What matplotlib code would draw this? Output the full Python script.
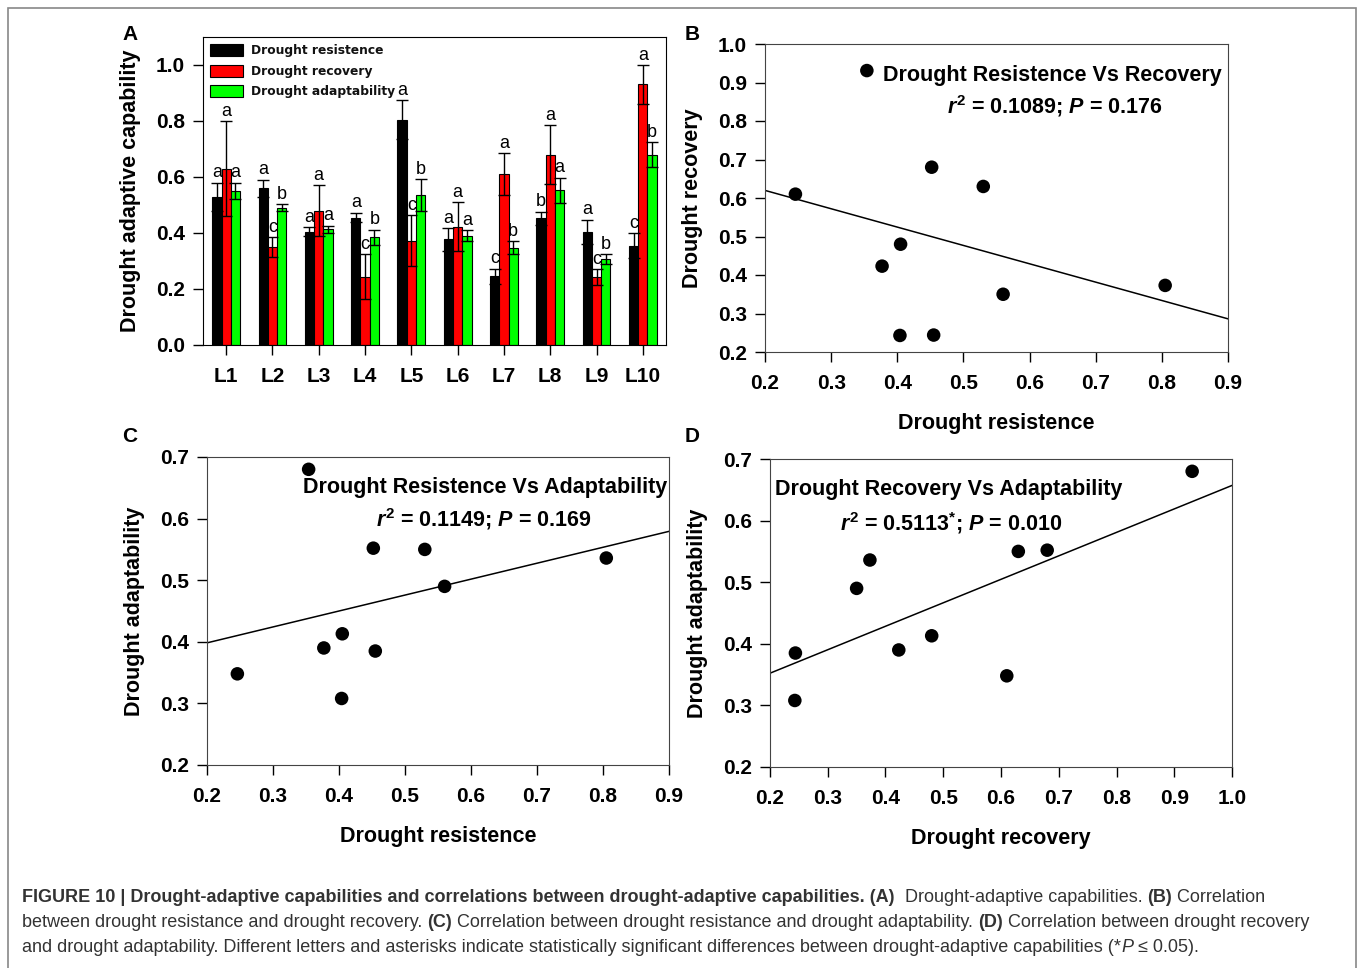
import numpy as np
import matplotlib
matplotlib.use("Agg")
import matplotlib.pyplot as plt
from matplotlib.patches import Rectangle

plt.rcParams['font.family'] = ['Liberation Sans', 'DejaVu Sans']
plt.rcParams['mathtext.fontset'] = 'custom'
plt.rcParams['mathtext.rm'] = 'Liberation Sans:bold'
plt.rcParams['mathtext.it'] = 'Liberation Sans:bold:italic'
plt.rcParams['mathtext.bf'] = 'Liberation Sans:bold'

# line means and standard errors
lines = ["L1", "L2", "L3", "L4", "L5", "L6", "L7", "L8", "L9", "L10"]
resistance = [0.53, 0.56, 0.405, 0.455, 0.805, 0.377, 0.246, 0.452, 0.404, 0.354]
recovery = [0.63, 0.35, 0.48, 0.244, 0.373, 0.423, 0.61, 0.68, 0.243, 0.931]
adaptability = [0.55, 0.49, 0.413, 0.385, 0.536, 0.39, 0.348, 0.552, 0.308, 0.68]
resistance_err = [0.05, 0.03, 0.015, 0.017, 0.07, 0.04, 0.027, 0.024, 0.043, 0.045]
recovery_err = [0.17, 0.035, 0.09, 0.08, 0.09, 0.087, 0.076, 0.105, 0.027, 0.069]
adaptability_err = [0.03, 0.012, 0.013, 0.027, 0.056, 0.02, 0.022, 0.045, 0.017, 0.045]

# significance letters per line (resistance, recovery, adaptability)
letters = [("a", "a", "a"), ("a", "c", "b"), ("a", "a", "a"), ("a", "c", "b"), ("a", "c", "b"),
           ("a", "a", "a"), ("c", "a", "b"), ("b", "a", "a"), ("a", "c", "b"), ("c", "a", "b")]

W, H = 1362, 968
fig = plt.figure(figsize=(W / 100, H / 100), dpi=100)


def box(left, top, right, bottom):
    return [left / W, 1 - bottom / H, (right - left) / W, (bottom - top) / H]


# outer frame
fig.add_artist(Rectangle((8 / W, -0.01), (1356 - 8) / W, 1 - 8 / H + 0.01,
                         transform=fig.transFigure, fill=False, edgecolor="#888888", lw=1.2))

# ---- A: bar chart ----
axA = fig.add_axes(box(203, 37, 666, 345))
x = np.arange(len(lines))
wbar = 0.2
series = [(resistance, resistance_err, "black", "Drought resistence"),
          (recovery, recovery_err, "#ff0000", "Drought recovery"),
          (adaptability, adaptability_err, "#00ff00", "Drought adaptability")]
for k, (vals, errs, col, lab) in enumerate(series):
    pos = x + (k - 1) * wbar
    axA.bar(pos, vals, wbar, color=col, edgecolor="black", lw=0.8, label=lab)
    axA.errorbar(pos, vals, yerr=errs, fmt="none", ecolor="black", elinewidth=1,
                 capsize=4, capthick=1)
    for i in range(len(lines)):
        axA.text(pos[i], vals[i] + errs[i] + 0.005, letters[i][k], ha="center", va="bottom",
                 fontsize=13)

axA.set_xlim(-0.5, len(lines) - 0.5)
axA.set_ylim(0, 1.1)
axA.set_yticks(np.arange(0, 1.01, 0.2))
axA.set_yticklabels(["%.1f" % v for v in np.arange(0, 1.01, 0.2)])
axA.set_xticks(x)
axA.set_xticklabels(lines)
axA.set_ylabel("Drought adaptive capability", fontsize=15.5, fontweight="bold", labelpad=11)
leg = axA.legend(loc="upper left", frameon=False, prop={"family": "DejaVu Sans", "weight": "bold", "size": 8.8},
                 handlelength=2.75, handleheight=1.15, labelspacing=0.62, borderaxespad=0.15,
                 handletextpad=0.65, borderpad=0.4)
for t in leg.get_texts():
    t.set_color("#111111")

# ---- scatter panels ----
def scatter_panel(rect, xs, ys, xlim, xticks, ylim, yticks, xlabel, ylabel, title, stat,
                  title_xy, stat_xy, title_ha):
    ax = fig.add_axes(rect)
    ax.scatter(xs, ys, s=95, color="black", zorder=3, edgecolors="none")
    slope, icpt = np.polyfit(xs, ys, 1)
    gx = np.array(xlim)
    ax.plot(gx, slope * gx + icpt, color="black", lw=1.1)
    ax.set_xlim(*xlim)
    ax.set_ylim(*ylim)
    ax.set_xticks(xticks)
    ax.set_xticklabels(["%.1f" % v for v in xticks])
    ax.set_yticks(yticks)
    ax.set_yticklabels(["%.1f" % v for v in yticks])
    ax.set_xlabel(xlabel, fontsize=15.5, fontweight="bold", labelpad=14)
    ax.set_ylabel(ylabel, fontsize=15.5, fontweight="bold", labelpad=11)
    ax.text(*title_xy, title, transform=ax.transAxes, ha=title_ha, va="center",
            fontsize=15.5, fontweight="bold")
    ax.text(*stat_xy, stat, transform=ax.transAxes, ha="center", va="center",
            fontsize=15.5, fontweight="bold")
    for s in ax.spines.values():
        s.set_color("#444444")
    return ax


axB = scatter_panel(box(765, 44, 1228, 352), resistance, recovery, (0.2, 0.9),
                    np.arange(0.2, 0.91, 0.1), (0.2, 1.0), np.arange(0.2, 1.01, 0.1),
                    "Drought resistence", "Drought recovery",
                    "Drought Resistence Vs Recovery", r"$r^2$ = 0.1089; $P$ = 0.176",
                    (0.254, 0.897), (0.626, 0.8), "left")
axC = scatter_panel(box(207, 457, 669, 765), resistance, adaptability, (0.2, 0.9),
                    np.arange(0.2, 0.91, 0.1), (0.2, 0.7), np.arange(0.2, 0.71, 0.1),
                    "Drought resistence", "Drought adaptability",
                    "Drought Resistence Vs Adaptability", r"$r^2$ = 0.1149; $P$ = 0.169",
                    (0.997, 0.9), (0.6, 0.8), "right")
axD = scatter_panel(box(770, 459, 1232, 767), recovery, adaptability, (0.2, 1.0),
                    np.arange(0.2, 1.01, 0.1), (0.2, 0.7), np.arange(0.2, 0.71, 0.1),
                    "Drought recovery", "Drought adaptability",
                    "Drought Recovery Vs Adaptability", r"$r^2$ = 0.5113$^{*}$; $P$ = 0.010",
                    (0.011, 0.9), (0.392, 0.792), "left")

for ax in (axA, axB, axC, axD):
    ax.tick_params(direction="out", length=7, width=1, labelsize=15, pad=6)
    ax.tick_params(axis="x", pad=9)
    for lab in ax.get_xticklabels() + ax.get_yticklabels():
        lab.set_fontweight("bold")

# panel letters
for lab, px, py in [("A", 130, 35), ("B", 692, 35), ("C", 130, 437), ("D", 692, 437)]:
    fig.text(px / W, 1 - py / H, lab, ha="center", va="center", fontsize=15, fontweight="bold")

# ---- caption, pieces laid out one after another ----
renderer = fig.canvas.get_renderer()
caption = [
    [("FIGURE 10 | Drought-adaptive capabilities and correlations between drought-adaptive capabilities. (A)", "bold"),
     ("  Drought-adaptive capabilities. ", "normal"), ("(B)", "bold"), (" Correlation", "normal")],
    [("between drought resistance and drought recovery. ", "normal"), ("(C)", "bold"),
     (" Correlation between drought resistance and drought adaptability. ", "normal"), ("(D)", "bold"),
     (" Correlation between drought recovery", "normal")],
    [("and drought adaptability. Different letters and asterisks indicate statistically significant "
      "differences between drought-adaptive capabilities (*", "normal"), ("P", "italic"),
     (" \u2264 0.05).", "normal")],
]
for row, baseline in zip(caption, [902, 927, 952]):
    xpos = 22
    for txt, style in row:
        t = fig.text(xpos / W, 1 - baseline / H, txt, fontsize=13, color="#333333",
                     fontweight="bold" if style == "bold" else "normal",
                     fontstyle="italic" if style == "italic" else "normal",
                     ha="left", va="baseline")
        xpos += t.get_window_extent(renderer).width

fig.savefig("out.png", dpi=100)
